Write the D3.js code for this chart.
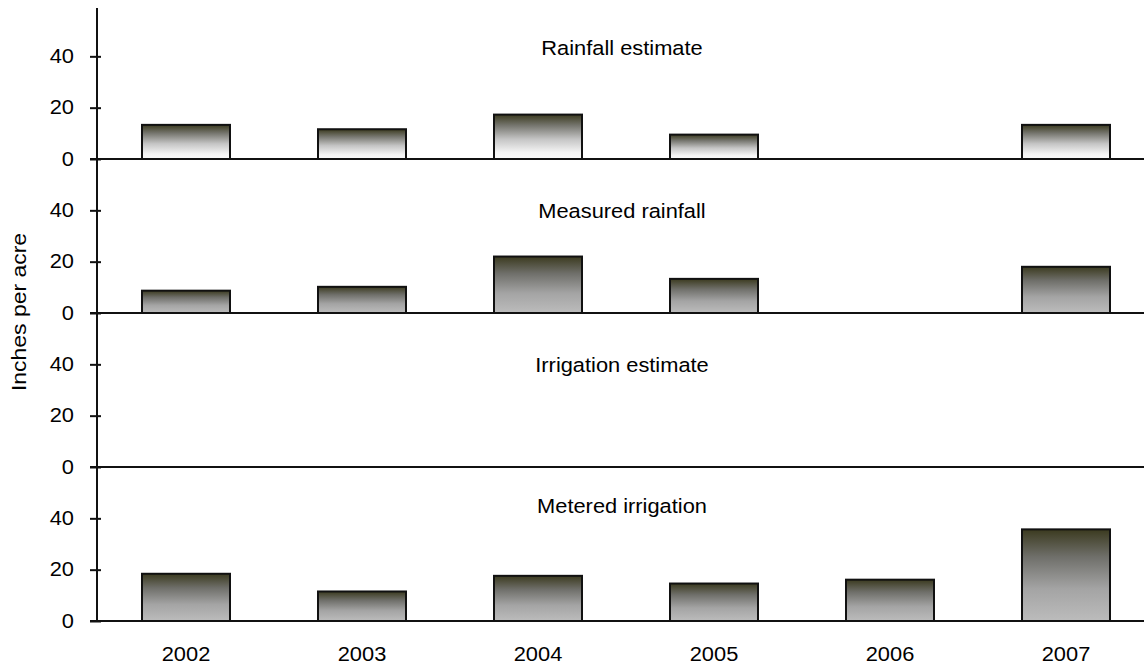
<!DOCTYPE html>
<html>
<head>
<meta charset="utf-8">
<script src="https://cdn.jsdelivr.net/npm/d3@7"></script>
<style>
  html, body { margin: 0; padding: 0; background: #fff; }
  svg { display: block; }
  text { font-family: "Liberation Sans", Arial, sans-serif; fill: #000; }
</style>
</head>
<body>
<svg id="chart" width="1144" height="667"></svg>
<script>
// ---- data ----
const years = ["2002", "2003", "2004", "2005", "2006", "2007"];
const panelTitles = ["Rainfall estimate", "Measured rainfall", "Irrigation estimate", "Metered irrigation"];
const rainfallEstimate = [13.3, 11.6, 17.3, 9.5, null, 13.3];
const measuredRainfall = [8.7, 10.2, 22.0, 13.3, null, 18.0];
const irrigationEstimate = [null, null, null, null, null, null];
const meteredIrrigation = [18.4, 11.5, 17.6, 14.6, 16.1, 35.7];
const yTicks = [0, 20, 40];
const yLabel = "Inches per acre";

const seriesList = [rainfallEstimate, measuredRainfall, irrigationEstimate, meteredIrrigation];

// ---- layout ----
const W = 1144, H = 667;
const axisX = 97;
const plotBottom = 621;
const panelH = 154;
const FS = 19.5;      // font size
const SX = 1.12;      // horizontal stretch of text
const svg = d3.select("#chart");

const x = d3.scaleBand().domain(years).range([98, 1154]).paddingInner(0.5).paddingOuter(0.25);

const defs = svg.append("defs");
function grad(id, stops) {
  const g = defs.append("linearGradient").attr("id", id)
    .attr("x1", 0).attr("y1", 0).attr("x2", 0).attr("y2", 1);
  stops.forEach(s => g.append("stop").attr("offset", s[0]).attr("stop-color", s[1]));
}
grad("gWhite", [[0, "#3b3a1f"], [0.25, "#777770"], [0.55, "#c4c4c4"], [0.85, "#f4f4f4"], [1, "#fafafa"]]);
grad("gGray", [[0, "#3b3a1f"], [0.3, "#6f6f6a"], [0.65, "#a4a4a4"], [1, "#bcbcbc"]]);
const fills = ["url(#gWhite)", "url(#gGray)", "url(#gGray)", "url(#gGray)"];
const titleVals = [42.7, 39.2, 39, 44.2];

function stretch(sel) {
  sel.each(function () {
    const t = d3.select(this);
    const tx = +t.attr("x") || 0, ty = +t.attr("y") || 0;
    t.attr("x", 0).attr("y", 0)
      .attr("transform", `translate(${tx},${ty}) scale(${SX},1)`);
  });
}

seriesList.forEach((vals, i) => {
  const zero = plotBottom - (3 - i) * panelH;
  const y = d3.scaleLinear().domain([0, 60]).range([zero, zero - panelH]);
  const g = svg.append("g");

  // bars
  const data = years.map((yr, k) => ({ yr, v: vals[k] })).filter(d => d.v != null);
  g.selectAll("rect").data(data).join("rect")
    .attr("x", d => x(d.yr))
    .attr("y", d => y(d.v))
    .attr("width", x.bandwidth())
    .attr("height", d => y(0) - y(d.v))
    .attr("fill", fills[i])
    .attr("stroke", "#111")
    .attr("stroke-width", 2);

  // zero line
  g.append("line").attr("x1", 90).attr("x2", W).attr("y1", zero).attr("y2", zero)
    .attr("stroke", "#111").attr("stroke-width", 2);

  // y axis ticks & labels
  const ax = d3.axisLeft(y).tickValues(yTicks).tickSize(7).tickPadding(16);
  const axG = svg.append("g").attr("transform", `translate(${axisX},0)`).call(ax);
  axG.select(".domain").remove();
  axG.selectAll(".tick line").attr("stroke", "#111").attr("stroke-width", 2).attr("x2", -7).attr("x1", 4);
  axG.selectAll(".tick text").attr("font-size", FS).attr("font-family", "Liberation Sans, Arial, sans-serif").call(stretch);

  // panel title
  svg.append("text").attr("x", 622).attr("y", y(titleVals[i]))
    .attr("text-anchor", "middle").attr("dominant-baseline", "middle")
    .attr("font-size", FS).text(panelTitles[i]).call(stretch);
});

// y axis line
svg.append("line").attr("x1", axisX).attr("x2", axisX).attr("y1", 8).attr("y2", plotBottom + 1)
  .attr("stroke", "#111").attr("stroke-width", 2);

// x axis labels
const xAx = d3.axisBottom(x).tickSize(0).tickPadding(26);
const xg = svg.append("g").attr("transform", `translate(0,${plotBottom})`).call(xAx);
xg.select(".domain").remove();
xg.selectAll(".tick text").attr("font-size", FS).attr("font-family", "Liberation Sans, Arial, sans-serif").call(stretch);

// y label
svg.append("text").attr("transform", `translate(21,312) rotate(-90) scale(${SX},1)`)
  .attr("text-anchor", "middle").attr("dominant-baseline", "middle")
  .attr("font-size", 20.5).text(yLabel);
</script>
</body>
</html>
